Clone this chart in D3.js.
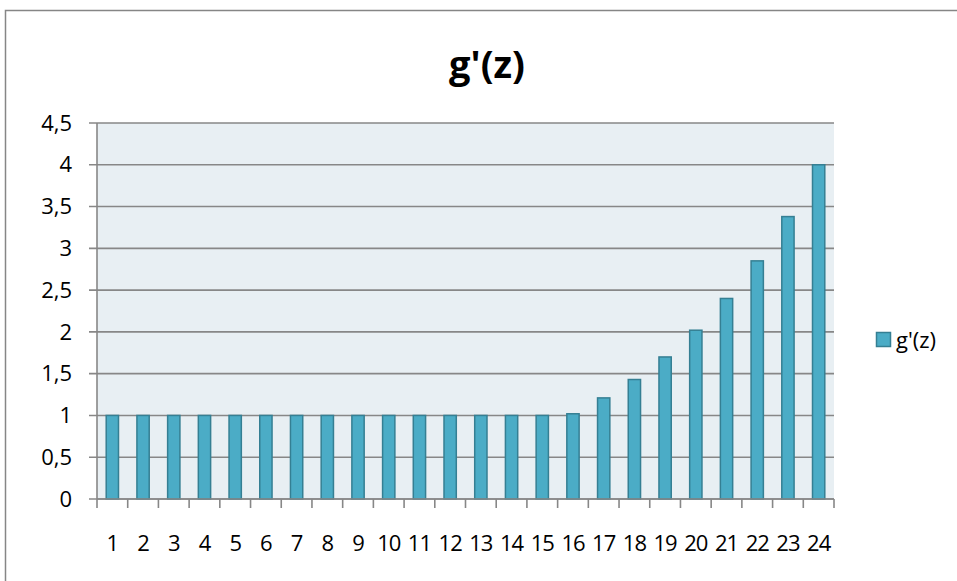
<!DOCTYPE html>
<html>
<head>
<meta charset="utf-8">
<script src="https://cdn.jsdelivr.net/npm/d3@7"></script>
<style>
  body { margin: 0; background: #fff; }
  svg { display: block; font-family: "Open Sans", "Liberation Sans", sans-serif; }
</style>
</head>
<body>
<svg id="chart" width="957" height="581"></svg>
<script>
// Categories 1..24 and the g'(z) value for each
const categories = ["1","2","3","4","5","6","7","8","9","10","11","12","13","14","15","16","17","18","19","20","21","22","23","24"];
const values = [1, 1, 1, 1, 1, 1, 1, 1, 1, 1, 1, 1, 1, 1, 1, 1.02, 1.21, 1.43, 1.70, 2.02, 2.40, 2.85, 3.38, 4.0];
const yTicks = [0, 0.5, 1, 1.5, 2, 2.5, 3, 3.5, 4, 4.5];
const yTickLabels = ["0", "0,5", "1", "1,5", "2", "2,5", "3", "3,5", "4", "4,5"];
const seriesName = "g'(z)";
const title = "g'(z)";

const svg = d3.select("#chart");
const plot = { left: 97, right: 834, top: 123, bottom: 499 };
const labelSize = 22;

// Outer chart border
svg.append("rect")
  .attr("x", 5.5).attr("y", 10.5)
  .attr("width", 1000).attr("height", 1000)
  .attr("fill", "none").attr("stroke", "#868686").attr("stroke-width", 1.5);

const x = d3.scaleBand().domain(categories).range([plot.left, plot.right]).paddingInner(0.6).paddingOuter(0.3);
const xTicks = d3.scaleBand().domain(categories).range([plot.left, plot.right]);
const y = d3.scaleLinear().domain([0, 4.5]).range([plot.bottom, plot.top]);

// Plot background
svg.append("rect")
  .attr("x", plot.left).attr("y", plot.top)
  .attr("width", plot.right - plot.left).attr("height", plot.bottom - plot.top)
  .attr("fill", "#E8EFF3");

// Horizontal gridlines with left tick marks
svg.append("g").selectAll("line").data(yTicks).join("line")
  .attr("x1", plot.left - 8).attr("x2", plot.right)
  .attr("y1", d => y(d)).attr("y2", d => y(d))
  .attr("stroke", "#878787").attr("stroke-width", 1.6);

// Y tick labels
svg.append("g").selectAll("text").data(yTicks).join("text")
  .attr("x", 72).attr("y", d => y(d))
  .attr("dy", "0.35em")
  .attr("text-anchor", "end")
  .attr("font-size", labelSize)
  .attr("fill", "#000")
  .text((d, i) => yTickLabels[i]);

// Bars
svg.append("g").selectAll("rect").data(values).join("rect")
  .attr("x", (d, i) => x(categories[i]))
  .attr("y", d => y(d))
  .attr("width", x.bandwidth())
  .attr("height", d => y(0) - y(d))
  .attr("fill", "#4BACC6")
  .attr("stroke", "#357F93")
  .attr("stroke-width", 1.5);

// Y axis line
svg.append("line")
  .attr("x1", plot.left).attr("x2", plot.left)
  .attr("y1", plot.top).attr("y2", plot.bottom)
  .attr("stroke", "#878787").attr("stroke-width", 1.6);

// X axis line and ticks at category boundaries
svg.append("line")
  .attr("x1", plot.left).attr("x2", plot.right)
  .attr("y1", plot.bottom).attr("y2", plot.bottom)
  .attr("stroke", "#878787").attr("stroke-width", 1.6);
const bounds = categories.map(c => xTicks(c)).concat([plot.right]);
svg.append("g").selectAll("line").data(bounds).join("line")
  .attr("x1", d => d).attr("x2", d => d)
  .attr("y1", plot.bottom).attr("y2", plot.bottom + 9)
  .attr("stroke", "#878787").attr("stroke-width", 1.6);

// X tick labels
svg.append("g").selectAll("text").data(categories).join("text")
  .attr("x", d => xTicks(d) + xTicks.bandwidth() / 2)
  .attr("y", 543)
  .attr("dy", "0.35em")
  .attr("text-anchor", "middle")
  .attr("font-size", labelSize)
  .attr("letter-spacing", -1)
  .attr("fill", "#000")
  .text(d => d);

// Title
svg.append("text")
  .attr("x", 487).attr("y", 78)
  .attr("text-anchor", "middle")
  .attr("font-size", 38)
  .attr("font-weight", "bold")
  .attr("fill", "#000")
  .text(title);

// Legend
svg.append("rect")
  .attr("x", 876.5).attr("y", 332.5)
  .attr("width", 14).attr("height", 14)
  .attr("fill", "#4BACC6").attr("stroke", "#357F93").attr("stroke-width", 1.5);
svg.append("text")
  .attr("x", 896).attr("y", 340)
  .attr("dy", "0.35em")
  .attr("font-size", labelSize)
  .attr("fill", "#000")
  .text(seriesName);
</script>
</body>
</html>
